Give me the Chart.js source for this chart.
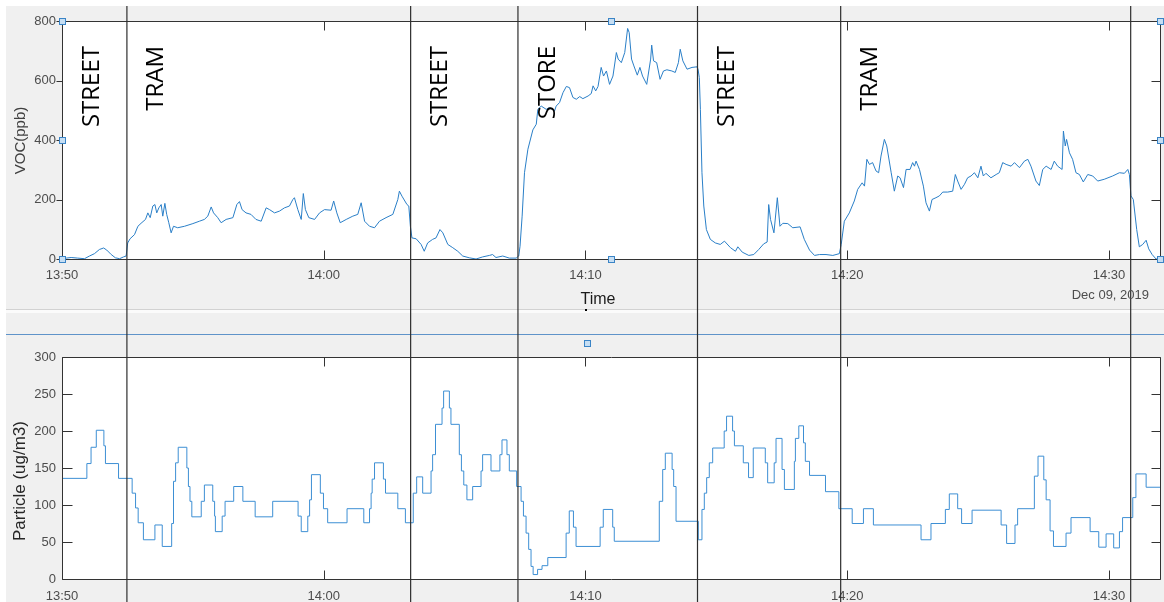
<!DOCTYPE html>
<html>
<head>
<meta charset="utf-8">
<title>VOC and particle readings, Dec 09, 2019</title>
<script src="https://cdn.jsdelivr.net/npm/chart.js@4.4.1/dist/chart.umd.min.js"></script>
<style>
  html, body { margin: 0; padding: 0; background: #ffffff; }
  #figure { position: relative; width: 1164px; height: 602px; overflow: hidden; background: #ffffff; }
  #panelBg { position: absolute; left: 6px; top: 6px; width: 1158px; height: 596px; background: #f0f0f0; }
  #rule { position: absolute; left: 6px; top: 309px; width: 1158px; height: 1px; background: #d2d2d2; }
  #ruleLight { position: absolute; left: 6px; top: 310px; width: 1158px; height: 3px; background: #fbfbfb; }
  #divider { position: absolute; left: 6px; top: 334px; width: 1158px; height: 1px; background: #5f93c9; }
  canvas { position: absolute; left: 0; }
  #vocCanvas { top: 0; }
  #pmCanvas { top: 330px; }
</style>
</head>
<body>
<div id="figure">
  <div id="panelBg"></div>
  <div id="rule"></div>
  <div id="ruleLight"></div>
  <div id="divider"></div>
  <canvas id="vocCanvas" width="1164" height="330"></canvas>
  <canvas id="pmCanvas" width="1164" height="272"></canvas>
</div>
<script>
// ---- time axis: minutes after 13:50, Dec 09, 2019 ----
const xMax = 41.95;
const xTickMinutes = [0, 10, 20, 30, 40];
const xTickLabels = ['13:50', '14:00', '14:10', '14:20', '14:30'];
const vocTicks = [0, 200, 400, 600, 800];
const pmTicks = [0, 50, 100, 150, 200, 250, 300];

// ---- location changes (minutes) and the place of each stretch ----
const segmentEdges = [2.48, 13.32, 17.42, 24.28, 29.75, 40.83];
const segmentNames = ['STREET', 'TRAM', 'STREET', 'STORE', 'STREET', 'TRAM'];

// ---- VOC (ppb) ----
const vocTime = [
  0, 0.16, 0.35, 0.6, 0.86, 1.05, 1.24, 1.43, 1.59, 1.71, 1.88, 2.04, 2.2, 2.35, 2.45,
  2.51, 2.6, 2.77, 2.9, 3.02, 3.19, 3.28, 3.37, 3.47, 3.55, 3.62, 3.7, 3.79, 3.85, 3.93, 4.0, 4.08, 4.17, 4.26, 4.42,
  4.68, 5.0, 5.25, 5.44, 5.57, 5.7, 5.79, 5.95, 6.08, 6.27, 6.53, 6.68, 6.78, 6.88, 7.03, 7.22, 7.41, 7.61, 7.8, 7.93, 8.12,
  8.31, 8.5, 8.69, 8.82, 8.88, 9.01, 9.14, 9.22, 9.3, 9.43, 9.65, 9.84, 10.03, 10.28, 10.38, 10.5, 10.63, 10.86, 11.11, 11.3, 11.43, 11.56, 11.75, 11.94, 12.13, 12.38, 12.64, 12.83,
  12.89, 12.99, 13.18, 13.25, 13.31, 13.37, 13.53, 13.72, 13.84, 13.97, 14.16, 14.29, 14.44, 14.55, 14.74, 14.93, 15.12, 15.31, 15.56, 15.82, 16.07, 16.33, 16.45, 16.58, 16.84, 17.09, 17.35, 17.45,
  17.5, 17.58, 17.67, 17.8, 17.99, 18.12, 18.18, 18.31, 18.5, 18.63, 18.82, 18.88, 19.01, 19.14, 19.27, 19.39, 19.52, 19.65, 19.78, 19.9, 20.1, 20.22, 20.29, 20.39, 20.48,
  20.6, 20.69, 20.8, 20.92, 21.05, 21.18, 21.25, 21.37, 21.5, 21.61, 21.67, 21.76, 21.85, 21.98, 22.08, 22.18, 22.34, 22.49, 22.53, 22.6, 22.72, 22.85, 22.98, 23.11, 23.3, 23.43, 23.55, 23.62, 23.72, 23.88, 24.07, 24.26, 24.3,
  24.35, 24.39, 24.45, 24.52, 24.62, 24.77, 24.96, 25.15, 25.31, 25.54, 25.73, 25.82, 25.99, 26.24, 26.43, 26.62, 26.81, 26.94, 27.0, 27.07, 27.2, 27.33, 27.43, 27.54, 27.73, 27.92, 28.2,
  28.36, 28.56, 28.75, 28.94, 29.19, 29.45, 29.7, 29.77, 29.89, 30.08, 30.27, 30.4, 30.57, 30.66, 30.75, 30.85, 30.97, 31.1, 31.2,
  31.29, 31.42, 31.51, 31.68, 31.8, 31.93, 32.02, 32.15, 32.25, 32.4, 32.5, 32.57, 32.63, 32.76, 32.91, 33.01, 33.14, 33.24, 33.39, 33.52, 33.65, 33.84, 34.03,
  34.13, 34.22, 34.35, 34.48, 34.6, 34.73, 34.86, 34.99, 35.11, 35.2, 35.3, 35.49, 35.69, 35.81, 35.94, 36.07, 36.26, 36.39, 36.58, 36.77, 36.9, 37.02, 37.21, 37.34, 37.47, 37.6, 37.79, 37.91, 38.04, 38.21,
  38.26, 38.33, 38.38, 38.49, 38.61, 38.74, 38.87, 39.02, 39.19, 39.38, 39.57, 39.82, 40.14, 40.4, 40.59, 40.72, 40.78, 40.84, 40.93, 41.06, 41.16, 41.29, 41.42, 41.52, 41.65, 41.8, 41.95
];
const vocValue = [
  3, 3, 5, 3, 1, 10, 18, 32, 37, 30, 15, 4, 1, 7, 10,
  54, 68, 82, 110, 120, 133, 155, 139, 178, 183, 155, 172, 183, 144, 187, 150, 122, 88, 110, 105,
  110, 119, 127, 133, 144, 175, 155, 139, 122, 133, 139, 183, 193, 166, 155, 150, 133, 127, 172, 166, 155,
  161, 172, 178, 200, 206, 166, 133, 220, 166, 139, 133, 155, 166, 164, 195, 155, 122, 133, 144, 150, 189, 127, 110, 105, 127, 139, 150, 200,
  228, 211, 183, 178, 110, 71, 68, 49, 26, 54, 66, 71, 99, 88, 49, 38, 26, 10, 4, 0, 7, 12, 15, 5, 10, 3, 3, 10,
  43, 144, 290, 369, 434, 453, 503, 514, 503, 509, 498, 514, 526, 559, 580, 576, 543, 537, 546, 539, 548, 556, 582, 565, 580,
  644, 615, 632, 587, 615, 694, 672, 660, 694, 775, 761, 672, 649, 618, 644, 615, 587, 672, 719, 666, 660, 604, 632, 636, 632, 627, 660, 705, 666, 638, 644, 646, 638,
  610, 503, 290, 178, 99, 66, 54, 49, 60, 38, 26, 41, 23, 12, 15, 32, 51, 57, 183, 133, 88, 206, 110, 120, 119, 105, 108,
  66, 30, 12, 15, 15, 12, 18, 49, 127, 155, 195, 234, 256, 245, 335, 318, 324, 296, 290,
  346, 402, 380, 290, 228, 279, 273, 240, 301, 301, 324, 312, 329, 301, 245, 189, 161, 200, 206, 212, 225, 225, 228,
  284, 262, 234, 251, 273, 279, 290, 273, 312, 279, 288, 273, 284, 290, 324, 318, 312, 324, 307, 329, 335, 312, 262, 247, 301, 312, 301, 329, 312, 301,
  430, 380, 402, 357, 335, 290, 284, 259, 284, 279, 262, 268, 279, 290, 288, 301, 284, 212, 200, 99, 41, 49, 63, 34, 15, 0, 0
];

// ---- particles (ug/m3): each reading holds until the next one ----
const pmTime = [
  0, 0.95, 1.11, 1.31, 1.6, 1.66, 2.16, 2.68, 2.81, 2.91, 3.11, 3.55, 3.83, 4.19, 4.26, 4.34, 4.44, 4.77, 4.83, 4.89, 4.96,
  5.32, 5.44, 5.76, 5.83, 5.86, 6.12, 6.23, 6.56, 6.91, 7.38, 8.05, 9.02, 9.14, 9.39, 9.46, 9.53, 9.87, 9.99, 10.15, 10.89, 11.53, 11.75, 11.81, 11.85, 11.94, 12.28, 12.36, 12.83,
  13.12, 13.42, 13.55, 13.78, 14.1, 14.16, 14.27, 14.52, 14.58, 14.8, 14.86, 15.18, 15.26, 15.35, 15.47, 15.69, 16.01, 16.07, 16.39, 16.73, 16.81, 17.0, 17.09,
  17.37, 17.54, 17.63, 17.73, 17.83, 17.92, 18.0, 18.17, 18.34, 18.56, 19.26, 19.38, 19.54, 19.64, 20.56, 20.68, 21.04, 21.1,
  22.82, 22.95, 23.05, 23.31, 23.37, 23.46, 24.31, 24.45, 24.54, 24.63, 24.73, 24.86, 25.3, 25.39, 25.62, 25.69, 26.03, 26.23, 26.41, 26.87, 26.96, 27.21, 27.28, 27.51, 27.6, 27.98, 28.02, 28.15, 28.33, 28.4, 28.56,
  29.17, 29.68, 30.19, 30.62, 31.0, 32.82, 33.2, 33.75, 33.9, 34.22, 34.37, 34.77, 35.88, 36.09, 36.41, 36.51, 37.15, 37.29, 37.51, 37.6, 37.75, 37.88, 38.36, 38.55, 39.28, 39.61, 39.89, 40.18, 40.4, 40.52, 40.91, 41.03, 41.42, 41.95
];
const pmValue = [
  136, 156, 178, 201, 180, 156, 136, 116, 96, 76, 53, 73, 44, 75, 132, 157, 178, 150, 125, 105, 84,
  105, 127, 105, 85, 64, 85, 105, 125, 105, 84, 105, 85, 64, 85, 107, 141, 116, 95, 76, 95, 76, 95, 116, 135, 157, 135, 116, 95,
  76, 116, 138, 116, 146, 168, 209, 231, 254, 231, 209, 168, 146, 127, 107, 125, 146, 168, 146, 168, 188, 168, 146,
  125, 105, 85, 62, 40, 17, 6, 13, 18, 29, 62, 92, 70, 44, 70, 94, 70, 51,
  105, 148, 170, 148, 125, 78, 53, 94, 116, 137, 157, 177, 200, 220, 200, 180, 157, 137, 177, 157, 130, 157, 190, 148, 121, 159, 190, 207, 184, 159, 140,
  118, 95, 75, 95, 73, 53, 75, 94, 115, 95, 75, 93, 73, 48, 73, 95, 139, 166, 134, 107, 65, 44, 62, 83, 64, 43, 61, 42, 64, 83, 110, 142, 124, 124
];

const FONT = '"Liberation Sans", Arial, Helvetica, sans-serif';
const LABEL_FONT = '"Open Sans", "Noto Sans", sans-serif';
const LABEL_SIZE = 24;
Chart.defaults.font.family = FONT;

const toPoints = (ts, vs) => ts.map((t, i) => ({ x: t, y: vs[i] }));

function timeAxis(height, pad) {
  return {
    type: 'linear', min: 0, max: xMax,
    grid: { display: false, drawTicks: false },
    border: { display: false },
    afterBuildTicks: s => { s.ticks = xTickMinutes.map(v => ({ value: v })); },
    afterFit: s => { s.height = height; },
    ticks: {
      autoSkip: false, maxRotation: 0, minRotation: 0, padding: pad,
      color: '#4d4d4d', font: { size: 13 },
      callback: v => xTickLabels[xTickMinutes.indexOf(v)]
    }
  };
}

function valueAxis(min, max, tickList) {
  return {
    min, max,
    grid: { display: false, drawTicks: false },
    border: { display: false },
    afterBuildTicks: s => { s.ticks = tickList.map(v => ({ value: v })); },
    afterFit: s => { s.width = 62; },
    ticks: { autoSkip: false, padding: 6, color: '#4d4d4d', font: { size: 13 } }
  };
}

// white plotting box behind the lines
const plotBackground = {
  id: 'plotBackground',
  beforeDraw(chart) {
    const a = chart.chartArea, ctx = chart.ctx;
    ctx.save();
    ctx.fillStyle = '#ffffff';
    ctx.fillRect(a.left, a.top, a.right - a.left, a.bottom - a.top);
    ctx.restore();
  }
};

function handle(ctx, x, y) {
  ctx.fillStyle = '#c6def3';
  ctx.strokeStyle = '#3a84c6';
  ctx.lineWidth = 1;
  ctx.fillRect(x - 3, y - 3, 6, 6);
  ctx.strokeRect(x - 3, y - 3, 6, 6);
}

// text reading bottom-to-top; capShift centres capital letters on x
function rotatedText(ctx, text, x, y, font, color, align, capShift) {
  ctx.save();
  ctx.translate(x, y);
  ctx.rotate(-Math.PI / 2);
  ctx.font = font;
  ctx.fillStyle = color;
  ctx.textAlign = align;
  if (capShift) {
    ctx.textBaseline = 'alphabetic';
    ctx.fillText(text, 0, capShift);
  } else {
    ctx.textBaseline = 'middle';
    ctx.fillText(text, 0, 0);
  }
  ctx.restore();
}

// box, inward ticks, location markers and annotations
function panelDecor(opts) {
  return {
    id: 'panelDecor',
    afterDraw(chart) {
      const { ctx, chartArea: a, scales: { x, y } } = chart;
      const L = a.left + 0.5, R = a.right + 0.5, T = a.top + 0.5, B = a.bottom + 0.5;
      ctx.save();

      ctx.strokeStyle = '#333333';
      ctx.lineWidth = 1;
      ctx.beginPath();
      ctx.rect(L, T, R - L, B - T);
      xTickMinutes.forEach(v => {
        const px = Math.round(x.getPixelForValue(v)) + 0.5;
        ctx.moveTo(px, T); ctx.lineTo(px, T + 9);
        ctx.moveTo(px, B); ctx.lineTo(px, B - 9);
      });
      opts.yTicks.forEach(v => {
        const py = Math.round(y.getPixelForValue(v)) + 0.5;
        if (opts.leftTicksOut) { ctx.moveTo(L - 6, py); ctx.lineTo(L, py); }
        else { ctx.moveTo(L, py); ctx.lineTo(L + 10, py); }
        ctx.moveTo(R, py); ctx.lineTo(R - 9, py);
      });
      ctx.stroke();

      // moments the location changed
      ctx.strokeStyle = '#2e2e2e';
      ctx.lineWidth = 1.2;
      segmentEdges.forEach(t => {
        const px = x.getPixelForValue(t);
        ctx.beginPath();
        ctx.moveTo(px, opts.edgeTop);
        ctx.lineTo(px, chart.height);
        ctx.stroke();
      });

      if (opts.places) {
        segmentNames.forEach((name, i) => {
          const start = i === 0 ? 0 : segmentEdges[i - 1];
          const px = x.getPixelForValue(start) + 28;
          rotatedText(ctx, name, px, 46, LABEL_SIZE + 'px ' + LABEL_FONT, '#000000', 'right', LABEL_SIZE * 0.357);
        });
      }

      rotatedText(ctx, opts.title, opts.titleX, opts.titleY, opts.titleFont, opts.titleColor, 'center');

      if (opts.extra) opts.extra(ctx, a);
      ctx.restore();
    }
  };
}

new Chart(document.getElementById('vocCanvas'), {
  type: 'line',
  data: {
    datasets: [{
      data: toPoints(vocTime, vocValue),
      borderColor: '#2a7fc8', borderWidth: 1, pointRadius: 0, tension: 0, fill: false
    }]
  },
  options: {
    responsive: false, animation: false, devicePixelRatio: 1,
    layout: { padding: { top: 21, right: 4, left: 0, bottom: 0 } },
    plugins: { legend: { display: false }, tooltip: { enabled: false } },
    scales: { x: timeAxis(71, 9), y: valueAxis(0, 800, vocTicks) }
  },
  plugins: [plotBackground, panelDecor({
    yTicks: vocTicks, leftTicksOut: true, edgeTop: 6, places: true,
    title: 'VOC(ppb)', titleX: 21, titleY: 140.5, titleFont: '15px ' + FONT, titleColor: '#404040',
    extra(ctx, a) {
      const L = a.left + 0.5, R = a.right + 0.5, T = a.top + 0.5, B = a.bottom + 0.5;
      const M = (L + R) / 2, C = (T + B) / 2;
      [[L, T], [M, T], [R, T], [L, C], [R, C], [L, B], [M, B], [R, B]].forEach(p => handle(ctx, p[0], p[1]));
      ctx.font = '16px ' + FONT;
      ctx.fillStyle = '#1a1a1a';
      ctx.textAlign = 'center';
      ctx.textBaseline = 'middle';
      ctx.fillText('Time', 598, 300);
      ctx.fillStyle = '#000000';
      ctx.fillRect(585, 309, 2, 2);
      ctx.font = '13px ' + FONT;
      ctx.fillStyle = '#4d4d4d';
      ctx.textAlign = 'right';
      ctx.fillText('Dec 09, 2019', 1149, 295);
    }
  })]
});

new Chart(document.getElementById('pmCanvas'), {
  type: 'line',
  data: {
    datasets: [{
      data: toPoints(pmTime, pmValue),
      borderColor: '#3d8fd4', borderWidth: 1, pointRadius: 0, stepped: true, fill: false
    }]
  },
  options: {
    responsive: false, animation: false, devicePixelRatio: 1,
    layout: { padding: { top: 27, right: 4, left: 0, bottom: 0 } },
    plugins: { legend: { display: false }, tooltip: { enabled: false } },
    scales: { x: timeAxis(23, 10), y: valueAxis(0, 300, pmTicks) }
  },
  plugins: [plotBackground, panelDecor({
    yTicks: pmTicks, leftTicksOut: false, edgeTop: 0, places: false,
    title: 'Particle (ug/m3)', titleX: 20, titleY: 151, titleFont: '17px ' + FONT, titleColor: '#262626',
    extra(ctx) { handle(ctx, 587.5, 13.5); }
  })]
});
</script>
</body>
</html>
